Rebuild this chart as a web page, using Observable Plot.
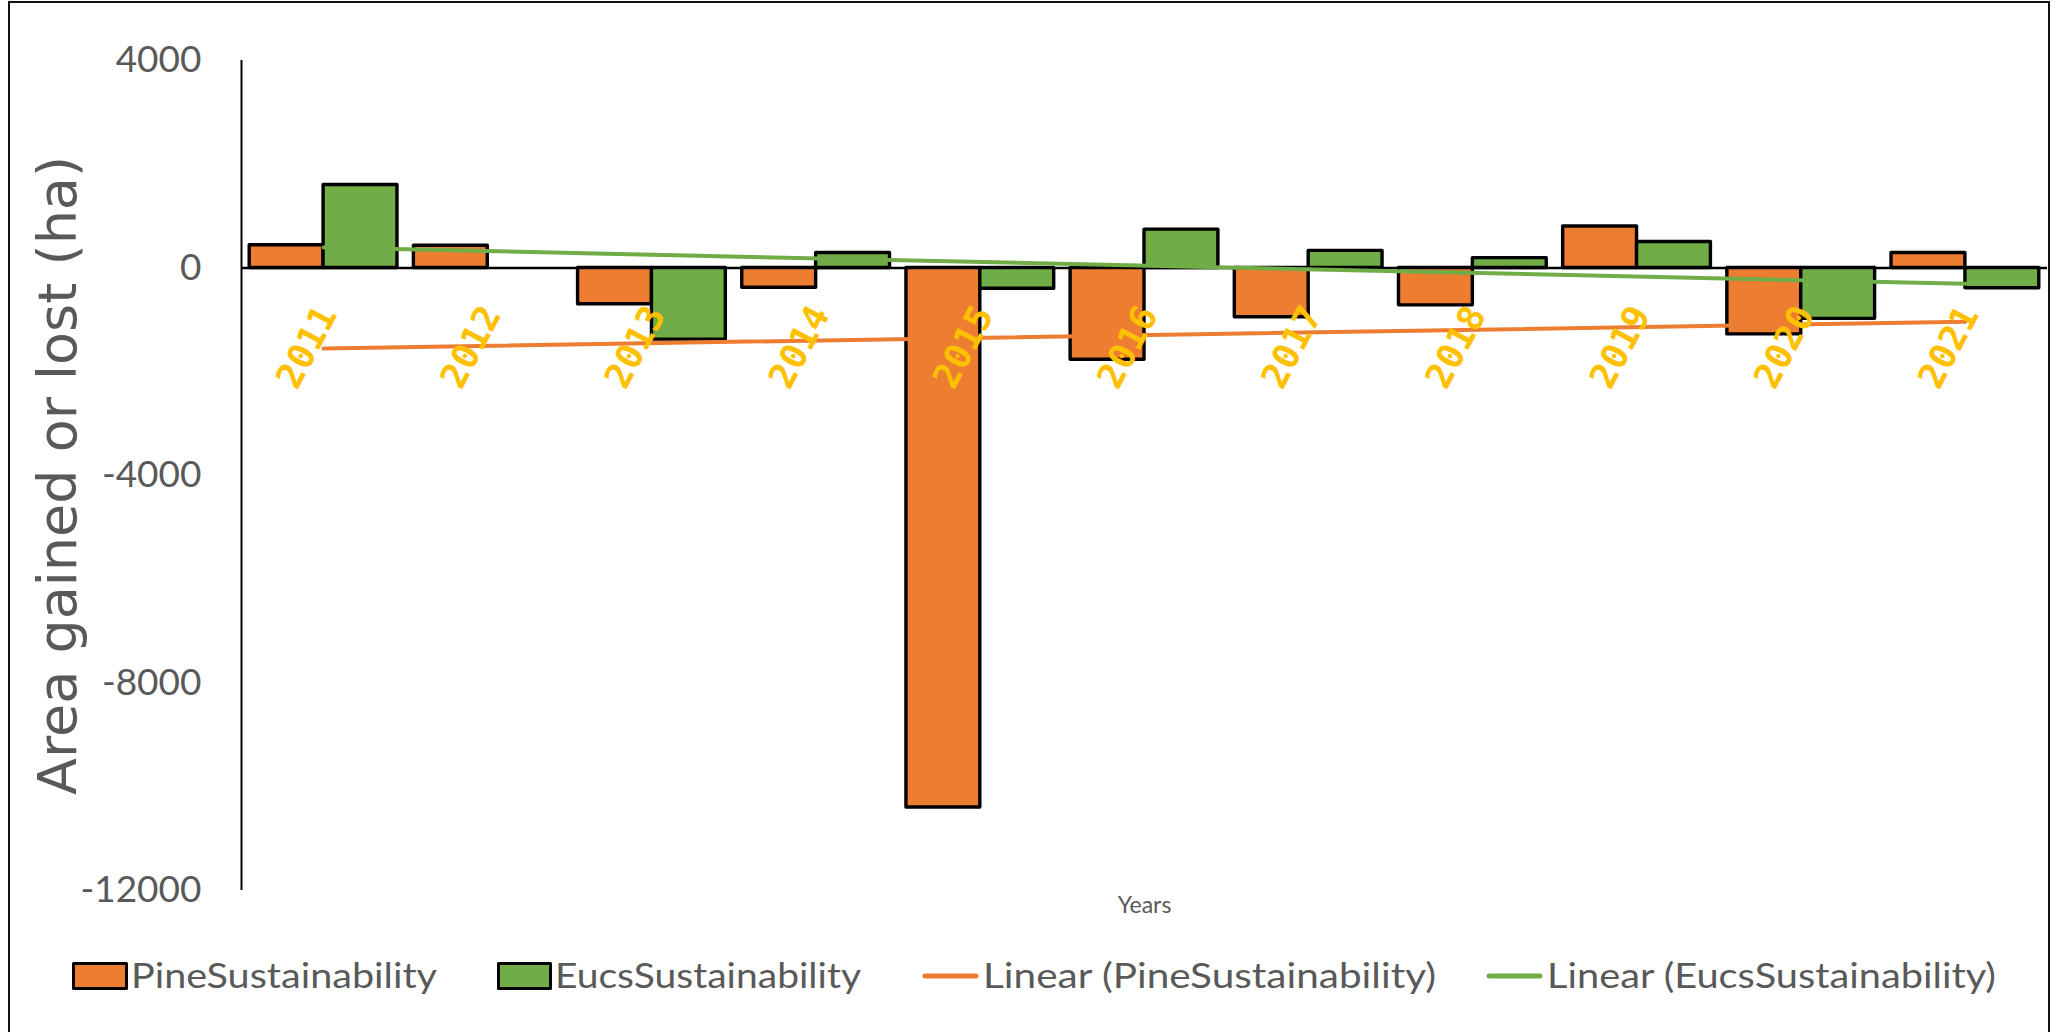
<!DOCTYPE html>
<html>
<head>
<meta charset="utf-8">
<script src="https://cdn.jsdelivr.net/npm/d3@7"></script>
<script src="https://cdn.jsdelivr.net/npm/@observablehq/plot@0.6"></script>
<style>
  html, body { margin: 0; padding: 0; background: #fff; overflow: hidden; }
  #page { position: relative; width: 2057px; height: 1032px; }
  #border { position: absolute; left: 8px; top: 1px; width: 2042px; height: 1060px;
            box-sizing: border-box; border: 2px solid #111; }
  #chart { position: absolute; left: 0; top: 0; }
  #legend { position: absolute; left: 0; top: 930px; }
  #chart svg g[aria-label="y-axis"] text,
  #chart svg g[aria-label="y-axis tick label"] text { font-family: Lato, sans-serif; font-size: 37px; fill: #595959; }
</style>
</head>
<body>
<div id="page">
  <div id="border"></div>
  <div id="chart"></div>
  <svg id="legend" width="2057" height="102"></svg>
</div>
<script>
// ---- data ----
const years = [2011, 2012, 2013, 2014, 2015, 2016, 2017, 2018, 2019, 2020, 2021];
const pineValues = [440, 430, -700, -380, -10400, -1770, -950, -720, 800, -1280, 290];
const eucsValues = [1600, 0, -1380, 290, -400, 740, 330, 190, 500, -980, -390];
const seriesNames = ["PineSustainability", "EucsSustainability"];
const trendNames = ["Linear (PineSustainability)", "Linear (EucsSustainability)"];
const seriesColors = ["#ED7D31", "#70AD47"];
const yTicks = [4000, 0, -4000, -8000, -12000];
const yDomain = [-12000, 4000];
const xTitle = "Years";
const yTitle = "Area gained or lost (ha)";

// ---- build table ----
const pineRows = years.map((year, i) => ({year, series: seriesNames[0], value: pineValues[i]}));
const eucsRows = years.map((year, i) => ({year, series: seriesNames[1], value: eucsValues[i]}));
const rows = pineRows.concat(eucsRows);
const half = 0.45; // each bar takes 45% of a category band

const grey = "#595959";
const chart = Plot.plot({
  width: 2057,
  height: 930,
  marginLeft: 241,
  marginRight: 10,
  marginTop: 60,
  marginBottom: 40,
  style: {background: "transparent", color: grey, fontFamily: "Lato, sans-serif", fontSize: "37px"},
  x: {domain: [years[0] - 0.5, years[years.length - 1] + 0.5], axis: null},
  y: {domain: yDomain, ticks: yTicks, tickFormat: d => String(d), tickSize: 0, tickPadding: 40, label: null},
  color: {domain: seriesNames, range: seriesColors},
  marks: [
    Plot.ruleY([0], {stroke: "#000", strokeWidth: 2.5}),
    Plot.ruleX([years[0] - 0.5], {y1: yDomain[0], y2: yDomain[1], stroke: "#000", strokeWidth: 2}),
    Plot.rectY(rows, {
      x1: d => d.series === seriesNames[0] ? d.year - half : d.year,
      x2: d => d.series === seriesNames[0] ? d.year : d.year + half,
      y1: 0,
      y2: "value",
      fill: "series",
      stroke: "#000",
      strokeWidth: 3.4,
      strokeLinejoin: "round"
    }),
    Plot.linearRegressionY(pineRows, {x: "year", y: "value", stroke: seriesColors[0], strokeWidth: 4, ci: 0, strokeLinecap: "round"}),
    Plot.linearRegressionY(eucsRows, {x: "year", y: "value", stroke: seriesColors[1], strokeWidth: 4, ci: 0, strokeLinecap: "round"}),
    Plot.text(years, {
      x: d => d, y: 0, text: d => String(d),
      rotate: -62, textAnchor: "end", dx: 4, dy: 41,
      fill: "#FFC000", fontFamily: "DejaVu Sans Mono, Liberation Mono, monospace",
      fontWeight: "bold", fontSize: 36
    }),
    Plot.text([xTitle], {frameAnchor: "bottom", dy: 22, text: d => d, fill: grey, fontFamily: "Lato, sans-serif", fontSize: 23}),
    Plot.text([yTitle], {frameAnchor: "left", textAnchor: "middle", dx: -183, rotate: -90, text: d => d, fill: grey, fontFamily: "DejaVu Sans, sans-serif", fontSize: 54})
  ]
});
document.getElementById("chart").append(chart);

// ---- legend (below the plot) ----
const lg = d3.select("#legend");
const items = [
  {kind: "box", name: seriesNames[0], color: seriesColors[0], x0: 72, x1: 128, tx: 131, tl: 306},
  {kind: "box", name: seriesNames[1], color: seriesColors[1], x0: 497, x1: 552, tx: 555, tl: 306},
  {kind: "line", name: trendNames[0], color: seriesColors[0], x0: 923, x1: 978, tx: 983, tl: 453},
  {kind: "line", name: trendNames[1], color: seriesColors[1], x0: 1487, x1: 1542, tx: 1547, tl: 449}
];
for (const it of items) {
  if (it.kind === "box") {
    lg.append("rect").attr("x", it.x0 + 1.5).attr("y", 33.5).attr("width", it.x1 - it.x0 - 3).attr("height", 25)
      .attr("fill", it.color).attr("stroke", "#000").attr("stroke-width", 3).attr("stroke-linejoin", "round");
  } else {
    lg.append("line").attr("x1", it.x0 + 2).attr("x2", it.x1 - 2).attr("y1", 46).attr("y2", 46)
      .attr("stroke", it.color).attr("stroke-width", 5).attr("stroke-linecap", "round");
  }
  lg.append("text").attr("x", it.tx).attr("y", 58).text(it.name)
    .attr("font-family", "Lato, sans-serif").attr("font-size", 35).attr("fill", grey)
    .attr("textLength", it.tl).attr("lengthAdjust", "spacingAndGlyphs");
}
</script>
</body>
</html>
